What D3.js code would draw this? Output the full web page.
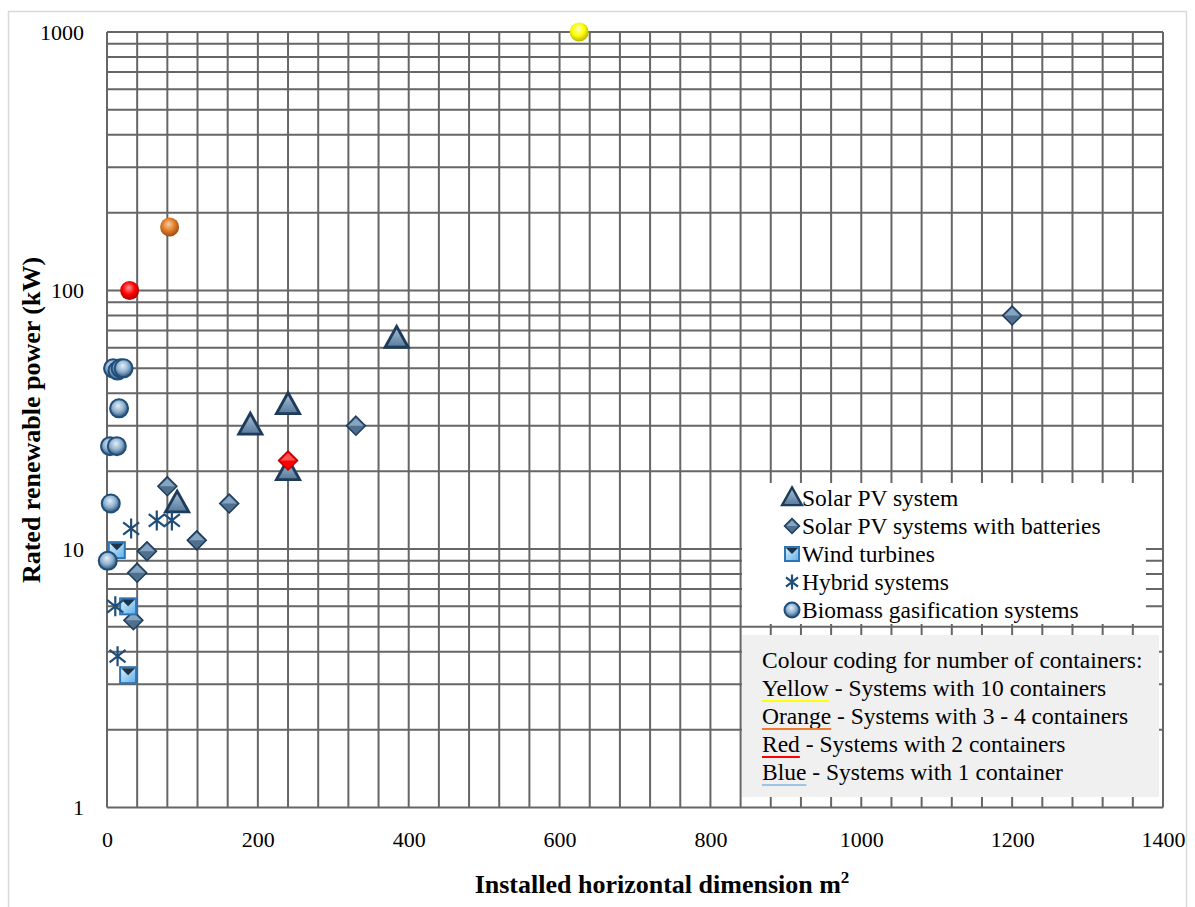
<!DOCTYPE html>
<html>
<head>
<meta charset="utf-8">
<script src="https://cdn.jsdelivr.net/npm/d3@7"></script>
<style>
  body { margin: 0; background: #fff; }
  svg { display: block; }
  svg text { font-family: "Liberation Serif", "Times New Roman", "DejaVu Serif", serif; fill: #000; }
</style>
</head>
<body>
<div id="chart"></div>
<script>
// data: [installed area m2, rated power kW]
var solarPV = [[384, 65], [190, 30], [240, 36], [240, 20], [93, 15]];
var solarBatt = [[80, 17.5], [162, 15], [119, 10.8], [53, 9.8], [40, 8.1], [35, 5.3], [330, 30], [1200, 80]];
var solarBattRed = [[240, 22]];
var wind = [[13, 9.9], [28, 6], [28, 3.25]];
var hybrid = [[32, 12], [66, 12.9], [86, 12.9], [11, 6], [14, 3.85]];
var biomass = [[1, 9], [5, 15], [4, 25], [13, 25], [16, 35], [8, 50], [14, 49], [18, 50], [22, 50]];
var biomassYellow = [[626, 1000]];
var biomassOrange = [[83, 176]];
var biomassRed = [[30, 100]];

var xTicks = [0, 200, 400, 600, 800, 1000, 1200, 1400];
var yTicks = [1, 10, 100, 1000];

var legendItems = ['Solar PV system', 'Solar PV systems with batteries', 'Wind turbines', 'Hybrid systems', 'Biomass gasification systems'];
var colourNotes = [
    ['Yellow', ' - Systems with 10 containers', '#ffff00'],
    ['Orange', ' - Systems with 3 - 4 containers', '#ed7d31'],
    ['Red', ' - Systems with 2 containers', '#ff0000'],
    ['Blue', ' - Systems with 1 container', '#9dc3e6']
];

var SERIF = '"Liberation Serif", "Times New Roman", "DejaVu Serif", serif';
var W = 1195, H = 907;
var margin = { top: 32, right: 32, bottom: 100, left: 107 };

var svg = d3.select('#chart').append('svg')
    .attr('width', W)
    .attr('height', H);

var defs = svg.append('defs');

function ball(id, c0, c1, c2) {
    var g = defs.append('radialGradient').attr('id', id)
        .attr('cx', '45%').attr('cy', '40%').attr('r', '60%')
        .attr('fx', '45%').attr('fy', '35%');
    g.append('stop').attr('offset', '0%').attr('stop-color', c0);
    g.append('stop').attr('offset', '55%').attr('stop-color', c1);
    g.append('stop').attr('offset', '100%').attr('stop-color', c2);
}
ball('gBlue', '#e4eef8', '#8fb0cf', '#2a4e74');
ball('gYellow', '#ffffc8', '#ffff00', '#b5b500');
ball('gOrange', '#f8cfa0', '#e07b28', '#9a4b14');
ball('gRed', '#ff9a9a', '#ff0000', '#a80000');

var lg = defs.append('linearGradient').attr('id', 'gTri').attr('x1', 0).attr('y1', 0).attr('x2', 0).attr('y2', 1);
lg.append('stop').attr('offset', '0%').attr('stop-color', '#a9c3dc');
lg.append('stop').attr('offset', '100%').attr('stop-color', '#58799b');
var lw = defs.append('linearGradient').attr('id', 'gWind').attr('x1', 0).attr('y1', 0).attr('x2', 1).attr('y2', 1);
lw.append('stop').attr('offset', '0%').attr('stop-color', '#e0f2fd');
lw.append('stop').attr('offset', '100%').attr('stop-color', '#5aaee8');

// outer frame
svg.append('rect')
    .attr('x', 8.5).attr('y', 11.5)
    .attr('width', 1178).attr('height', 905)
    .style('fill', 'none')
    .style('stroke', '#d9d9d9')
    .style('stroke-width', '1.5px');

var x = d3.scaleLinear().domain([0, 1400]).range([margin.left, W - margin.right]);
var y = d3.scaleLog().domain([1, 1000]).range([807.5, margin.top]);

// grid
var grid = svg.append('g');
grid.selectAll('line.v').data(d3.range(0, 1401, 40)).enter().append('line')
    .attr('x1', d => x(d)).attr('x2', d => x(d))
    .attr('y1', y(1000)).attr('y2', y(1))
    .style('stroke', '#666').style('stroke-width', '2px');

var yGrid = [];
[1, 10, 100].forEach(function (d) {
    for (var k = 1; k < 10; k++) yGrid.push(k * d);
});
yGrid.push(1000);
grid.selectAll('line.h').data(yGrid).enter().append('line')
    .attr('x1', x(0)).attr('x2', x(1400))
    .attr('y1', d => y(d)).attr('y2', d => y(d))
    .style('stroke', '#666').style('stroke-width', '2px');

// axes labels via d3 axes
var xAxis = svg.append('g')
    .attr('transform', 'translate(0,' + y(1) + ')')
    .call(d3.axisBottom(x).tickValues(xTicks).tickSize(0).tickPadding(24).tickFormat(d3.format('d')));
xAxis.attr('font-family', SERIF).attr('font-size', 22);
xAxis.select('.domain').remove();

var yAxis = svg.append('g')
    .attr('transform', 'translate(' + x(0) + ',0)')
    .call(d3.axisLeft(y).tickValues(yTicks).tickSize(0).tickPadding(23).tickFormat(d3.format('d')));
yAxis.attr('font-family', SERIF).attr('font-size', 22);
yAxis.select('.domain').remove();

svg.append('text')
    .attr('x', 662).attr('y', 893)
    .attr('text-anchor', 'middle')
    .attr('font-family', SERIF)
    .style('font-size', '26px').style('font-weight', 'bold')
    .html('Installed horizontal dimension m<tspan dy="-10" font-size="17px">2</tspan>');

svg.append('text')
    .attr('transform', 'translate(40,420) rotate(-90)')
    .attr('text-anchor', 'middle')
    .attr('font-family', SERIF)
    .style('font-size', '26px').style('font-weight', 'bold')
    .text('Rated renewable power (kW)');

// marker painters
function triangle(g, s) {
    g.append('path')
        .attr('d', 'M0,' + (-s * 0.62) + 'L' + (s * 0.58) + ',' + (s * 0.42) + 'L' + (-s * 0.58) + ',' + (s * 0.42) + 'Z')
        .style('fill', 'url(#gTri)').style('stroke', '#1f3b5a').style('stroke-width', s / 7);
}
function diamond(g, s, col) {
    var h = s / 2;
    g.append('path').attr('d', 'M0,' + (-h) + 'L' + h + ',0L0,' + h + 'L' + (-h) + ',0Z')
        .style('fill', col || '#4f6f8f').style('stroke', col ? '#c00000' : '#1f3b5a').style('stroke-width', 1.5);
    g.append('path').attr('d', 'M0,' + (-h + 2) + 'L' + (h - 2) + ',0L0,0L' + (-h + 2) + ',0Z')
        .style('fill', col ? '#ff6a6a' : '#93b3d0').style('opacity', 0.8);
}
function windBox(g, s) {
    var h = s / 2;
    g.append('rect').attr('x', -h).attr('y', -h).attr('width', s).attr('height', s)
        .style('fill', 'url(#gWind)').style('stroke', '#2e75b6').style('stroke-width', 2);
    g.append('path').attr('d', 'M' + (-h + 1) + ',' + (-h + 1) + 'L' + (h - 1) + ',' + (-h + 1) + 'L0,0Z')
        .style('fill', '#1d3347');
}
function star(g, s) {
    var h = s / 2;
    var dx = h * 0.8, dy = h * 0.62;
    var d = 'M0,' + (-h) + 'L0,' + h + 'M' + (-dx) + ',' + (-dy) + 'L' + dx + ',' + dy + 'M' + (-dx) + ',' + dy + 'L' + dx + ',' + (-dy);
    g.append('path').attr('d', d).style('stroke', '#1f4e79').style('stroke-width', 2.2).style('fill', 'none');
}
function sphere(g, s, grad) {
    g.append('circle').attr('r', s / 2)
        .style('fill', 'url(#' + grad + ')').style('stroke', grad === 'gBlue' ? '#1f4e79' : 'none').style('stroke-width', 2);
}

function plot(data, painter) {
    var args = Array.prototype.slice.call(arguments, 2);
    svg.append('g').selectAll('g').data(data).enter().append('g')
        .attr('transform', d => 'translate(' + x(d[0]) + ',' + y(d[1]) + ')')
        .each(function () {
            painter.apply(null, [d3.select(this)].concat(args));
        });
}

plot(solarPV, triangle, 20);
plot(solarBatt, diamond, 19);
plot(wind, windBox, 16);
plot(hybrid, star, 20);
plot(biomass, sphere, 18, 'gBlue');
plot(biomassYellow, sphere, 19, 'gYellow');
plot(biomassOrange, sphere, 19, 'gOrange');
plot(biomassRed, sphere, 19, 'gRed');
plot(solarBattRed, diamond, 19, '#ff0000');

// legend
var leg = svg.append('g');
leg.append('rect').attr('x', 742).attr('y', 483).attr('width', 404).attr('height', 141).style('fill', '#fff');
var painters = [
    g => triangle(g, 17),
    g => diamond(g, 15),
    g => windBox(g, 14),
    g => star(g, 15),
    g => sphere(g, 15, 'gBlue')
];
legendItems.forEach(function (t, i) {
    var cy = 498 + i * 28;
    var mg = leg.append('g').attr('transform', 'translate(792,' + cy + ')');
    painters[i](mg);
    leg.append('text').attr('x', 802).attr('y', cy + 8)
        .attr('font-family', SERIF)
        .style('font-size', '23.5px').text(t);
});

// colour coding note box
var note = svg.append('g');
note.append('rect').attr('x', 742).attr('y', 635).attr('width', 417).attr('height', 162).style('fill', '#f0f0f0');
note.append('text').attr('x', 762).attr('y', 668).attr('font-family', SERIF)
    .style('font-size', '23.5px').text('Colour coding for number of containers:');
colourNotes.forEach(function (n, i) {
    var by = 696 + i * 28;
    var t = note.append('text').attr('x', 762).attr('y', by).attr('font-family', SERIF).style('font-size', '23.5px');
    var first = t.append('tspan').text(n[0]);
    t.append('tspan').text(n[1]);
    var w = first.node().getComputedTextLength();
    note.append('line')
        .attr('x1', 762).attr('x2', 762 + w)
        .attr('y1', by + 5).attr('y2', by + 5)
        .style('stroke', n[2]).style('stroke-width', 2);
});
</script>
</body>
</html>
